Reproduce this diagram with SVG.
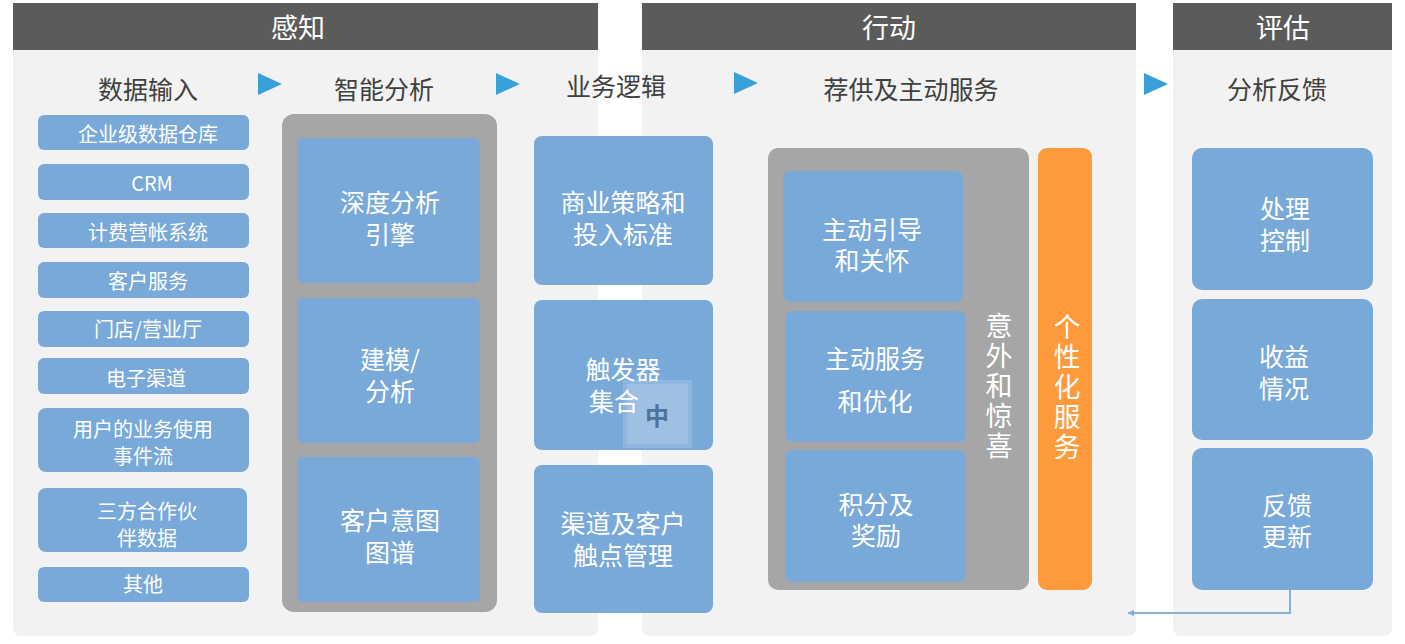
<svg xmlns="http://www.w3.org/2000/svg" width="1405" height="644" viewBox="0 0 1405 644">
<defs>
<style>
text{font-family:"Noto Sans CJK SC","Liberation Sans",sans-serif;text-anchor:middle;dominant-baseline:central}
.body{fill:#f2f2f2}
.hdr{fill:#5b5b5b}
.htxt{fill:#ffffff;font-size:27px}
.sub{fill:#404040;font-size:25px}
.blue{fill:#79a9d8}
.gray{fill:#a6a6a6}
.s{fill:#ffffff;font-size:20px}
.m{fill:#ffffff;font-size:25px}
.v{fill:#ffffff;font-size:27px;writing-mode:vertical-rl;text-orientation:upright;letter-spacing:3px}
.tri{fill:#38a0d8}
</style>
<marker id="ah" viewBox="0 0 10 10" refX="9" refY="5" markerWidth="7" markerHeight="7" markerUnits="userSpaceOnUse" orient="auto">
<path d="M0,0 L10,5 L0,10 Z" fill="#86b0dc"/>
</marker>
</defs>
<rect width="1405" height="644" fill="#ffffff"/>

<g id="panel-perceive">
<rect class="body" x="13" y="30" width="585" height="606" rx="8"/>
<rect class="hdr" x="13" y="3" width="585" height="47"/>
<text class="htxt" x="298" y="26">感知</text>
</g>
<g id="panel-action">
<rect class="body" x="642" y="30" width="494" height="606" rx="8"/>
<rect class="hdr" x="642" y="3" width="494" height="47"/>
<text class="htxt" x="889" y="26">行动</text>
</g>
<g id="panel-eval">
<rect class="body" x="1173" y="30" width="219" height="606" rx="8"/>
<rect class="hdr" x="1173" y="3" width="219" height="47"/>
<text class="htxt" x="1283" y="26">评估</text>
</g>

<g id="subtitles">
<text class="sub" x="148" y="88">数据输入</text>
<text class="sub" x="384" y="88">智能分析</text>
<text class="sub" x="616" y="85">业务逻辑</text>
<text class="sub" x="911" y="88">荐供及主动服务</text>
<text class="sub" x="1277" y="88">分析反馈</text>
<path class="tri" d="M258,73 L282,84 L258,95 Z"/>
<path class="tri" d="M496,73 L520,84 L496,95 Z"/>
<path class="tri" d="M734,72 L758,83 L734,94 Z"/>
<path class="tri" d="M1144,73 L1168,84 L1144,95 Z"/>
</g>

<g id="data-input">
<g id="in1"><rect class="blue" x="38" y="115" width="211" height="35" rx="6"/><text class="s" x="148" y="133">企业级数据仓库</text></g>
<g id="in2"><rect class="blue" x="38" y="164" width="211" height="36" rx="6"/><text class="s" x="152" y="182">CRM</text></g>
<g id="in3"><rect class="blue" x="38" y="213" width="211" height="35" rx="6"/><text class="s" x="148" y="231">计费营帐系统</text></g>
<g id="in4"><rect class="blue" x="38" y="262" width="211" height="36" rx="6"/><text class="s" x="148" y="280">客户服务</text></g>
<g id="in5"><rect class="blue" x="38" y="311" width="211" height="36" rx="6"/><text class="s" x="148" y="328">门店/营业厅</text></g>
<g id="in6"><rect class="blue" x="38" y="358" width="211" height="36" rx="6"/><text class="s" x="146" y="377">电子渠道</text></g>
<g id="in7"><rect class="blue" x="38" y="408" width="211" height="64" rx="8"/><text class="s"><tspan x="143" y="428">用户的业务使用</tspan><tspan x="143" y="455">事件流</tspan></text></g>
<g id="in8"><rect class="blue" x="38" y="488" width="209" height="64" rx="8"/><text class="s"><tspan x="147" y="510">三方合作伙</tspan><tspan x="147" y="537">伴数据</tspan></text></g>
<g id="in9"><rect class="blue" x="38" y="567" width="211" height="35" rx="6"/><text class="s" x="143" y="583">其他</text></g>
</g>

<g id="smart-analysis">
<rect class="gray" x="282" y="114" width="215" height="498" rx="12"/>
<g id="sa1"><rect class="blue" x="297" y="138" width="183" height="145" rx="6"/><text class="m"><tspan x="390" y="201">深度分析</tspan><tspan x="390" y="233">引擎</tspan></text></g>
<g id="sa2"><rect class="blue" x="297" y="298" width="183" height="145" rx="6"/><text class="m"><tspan x="390" y="358">建模/</tspan><tspan x="390" y="390">分析</tspan></text></g>
<g id="sa3"><rect class="blue" x="297" y="457" width="183" height="145" rx="6"/><text class="m"><tspan x="390" y="519">客户意图</tspan><tspan x="390" y="551">图谱</tspan></text></g>
</g>

<g id="business-logic">
<g id="bl1"><rect class="blue" x="534" y="136" width="179" height="149" rx="8"/><text class="m"><tspan x="623" y="201">商业策略和</tspan><tspan x="623" y="233">投入标准</tspan></text></g>
<g id="bl2"><rect class="blue" x="534" y="300" width="179" height="150" rx="8"/><text class="m"><tspan x="623" y="368">触发器</tspan><tspan x="614" y="400">集合</tspan></text></g>
<g id="bl3"><rect class="blue" x="534" y="465" width="179" height="148" rx="8"/><text class="m"><tspan x="623" y="522">渠道及客户</tspan><tspan x="623" y="554">触点管理</tspan></text></g>
</g>

<g id="ime-indicator">
<rect x="623" y="380" width="69" height="68" fill="#ffffff" fill-opacity="0.16"/>
<rect x="627" y="384" width="61" height="60" fill="#ffffff" fill-opacity="0.15"/>
<text x="657" y="414" fill="#4f7299" font-size="24" font-weight="bold">中</text>
</g>

<g id="service">
<rect class="gray" x="768" y="148" width="261" height="442" rx="10"/>
<g id="sv1"><rect class="blue" x="783" y="171" width="180" height="131" rx="8"/><text class="m"><tspan x="872" y="228">主动引导</tspan><tspan x="872" y="259">和关怀</tspan></text></g>
<g id="sv2"><rect class="blue" x="785" y="311" width="181" height="131" rx="8"/><text class="m"><tspan x="875" y="357">主动服务</tspan><tspan x="875" y="400">和优化</tspan></text></g>
<g id="sv3"><rect class="blue" x="785" y="450" width="181" height="132" rx="8"/><text class="m"><tspan x="876" y="503">积分及</tspan><tspan x="876" y="534">奖励</tspan></text></g>
<g id="surprise">
<text class="v" x="999" y="387">意外和惊喜</text>
</g>
<g id="personal">
<rect x="1038" y="148" width="54" height="442" rx="9" fill="#ff9a3c"/>
<text class="v" x="1067" y="388">个性化服务</text>
</g>
</g>

<g id="feedback">
<g id="fb1"><rect class="blue" x="1192" y="148" width="181" height="142" rx="10"/><text class="m"><tspan x="1285" y="207">处理</tspan><tspan x="1285" y="239">控制</tspan></text></g>
<g id="fb2"><rect class="blue" x="1192" y="299" width="181" height="141" rx="10"/><text class="m"><tspan x="1284" y="355">收益</tspan><tspan x="1284" y="387">情况</tspan></text></g>
<g id="fb3"><rect class="blue" x="1192" y="448" width="181" height="142" rx="10"/><text class="m"><tspan x="1287" y="504">反馈</tspan><tspan x="1287" y="535">更新</tspan></text></g>
</g>

<g id="connectors">
<polyline points="1290,590 1290,613 1128,613" fill="none" stroke="#86b0dc" stroke-width="2" marker-end="url(#ah)"/>
</g>
</svg>
